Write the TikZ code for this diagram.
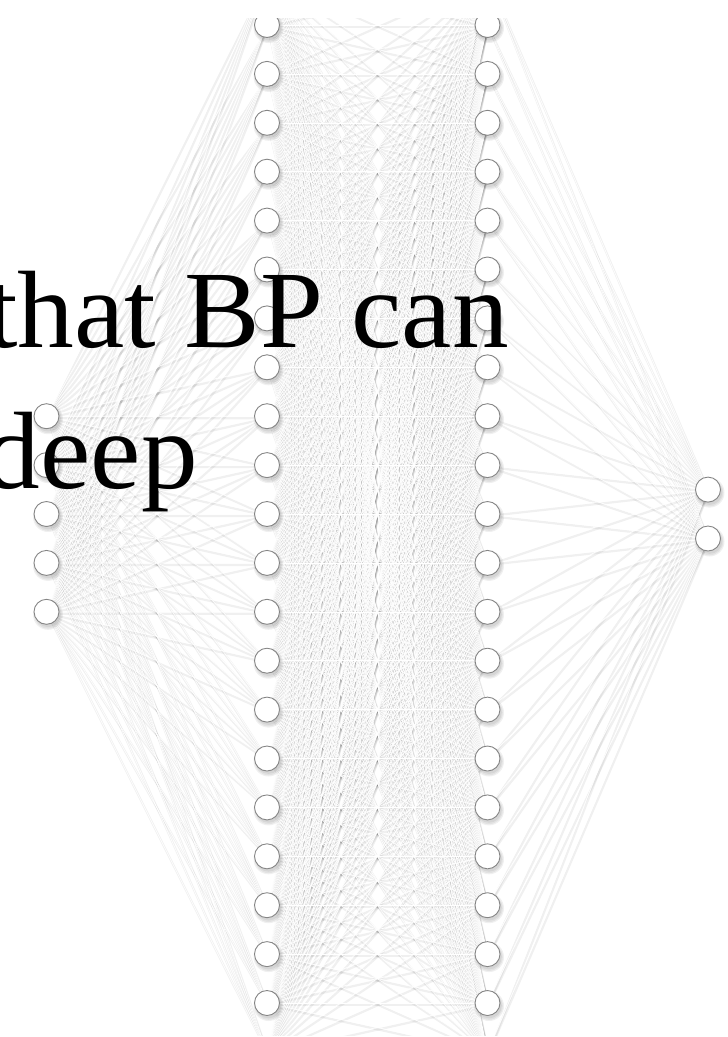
\documentclass[tikz,border=0pt]{standalone}
\usepackage{fontspec}
\setmainfont{Liberation Serif}[FakeStretch=1.03]
\definecolor{nodeline}{HTML}{858585}
\pgfdeclarelayer{edges}
\pgfdeclarelayer{nshadow}
\pgfsetlayers{edges,nshadow,main}
\begin{document}
\begin{tikzpicture}[x=1pt,y=-1pt,
  neuron/.style={circle, draw=nodeline, line width=0.9pt, fill=white, minimum size=25pt, inner sep=0pt},
  edgeshade/.style={draw=black, draw opacity=0.06, line width=2.2pt},
  edgelight/.style={draw=white, line width=0.6pt},
  nodeshade/.style={fill=black, fill opacity=0.06},
  bigtext/.style={font=\fontsize{110}{120}\selectfont, inner sep=0pt, text=black}]
\useasboundingbox (0,0) rectangle (728,1037);
\clip (0,0) rectangle (728,1037);
\begin{scope}
\clip (0,18) rectangle (728,1035);
% hidden layers
\foreach \k in {0,...,22} {
  \node[neuron] (h\k) at (267, {25+48.9*(\k-1)}) {};
  \node[neuron] (g\k) at (487.5, {25+48.9*(\k-1)}) {};
}
% input layer
\foreach \i in {1,...,5} \node[neuron] (in\i) at (46.5, {416.2+48.9*(\i-1)}) {};
% output layer
\foreach \i in {1,2} \node[neuron] (out\i) at (708, {489.6+48.9*(\i-1)}) {};
\end{scope}
% connectors
\begin{pgfonlayer}{edges}
\clip (0,18) rectangle (728,1035);
\foreach \a in {0,...,22} {
  \foreach \b in {0,...,22} {
    \draw[edgeshade] ([shift={(1,2)}]h\a.center) -- ([shift={(1,2)}]g\b.center);
  }
  \foreach \i in {1,...,5} {
    \draw[edgeshade] ([shift={(1,2)}]in\i.center) -- ([shift={(1,2)}]h\a.center);
  }
  \foreach \i in {1,2} {
    \draw[edgeshade] ([shift={(1,2)}]g\a.center) -- ([shift={(1,2)}]out\i.center);
  }
}
\foreach \a in {0,...,22} {
  \foreach \b in {0,...,22} {
    \draw[edgelight] (h\a) -- (g\b);
  }
  \foreach \i in {1,...,5} {
    \draw[edgelight] (in\i) -- (h\a);
  }
  \foreach \i in {1,2} {
    \draw[edgelight] (g\a) -- (out\i);
  }
}
\end{pgfonlayer}
% node shadows
\begin{pgfonlayer}{nshadow}
\clip (0,18) rectangle (728,1035);
\foreach \n in {h0,h1,h2,h3,h4,h5,h6,h7,h8,h9,h10,h11,h12,h13,h14,h15,h16,h17,h18,h19,h20,h21,h22,
                g0,g1,g2,g3,g4,g5,g6,g7,g8,g9,g10,g11,g12,g13,g14,g15,g16,g17,g18,g19,g20,g21,g22,
                in1,in2,in3,in4,in5,out1,out2} {
  \fill[nodeshade] ([shift={(1.5,3)}]\n.center) circle (15);
  \fill[nodeshade] ([shift={(1.5,3)}]\n.center) circle (13.8);
  \fill[nodeshade] ([shift={(1.5,2.5)}]\n.center) circle (12.8);
}
\end{pgfonlayer}
% text
\node[bigtext, anchor=base east] (t1) at (509, 347) {that BP can};
\node[bigtext, anchor=base east] (t2) at (198, 488) {deep};
\end{tikzpicture}
\end{document}
